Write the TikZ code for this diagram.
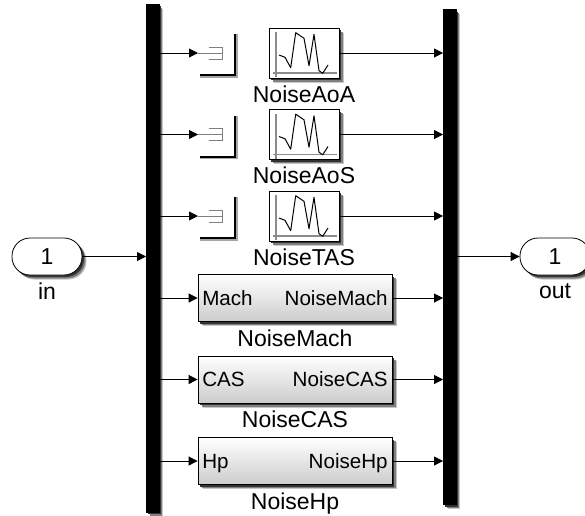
\documentclass[tikz,border=0pt]{standalone}
\usepackage{fontspec}
\setmainfont{Liberation Sans}
\usetikzlibrary{arrows.meta,shadows}
\tikzset{
  softshadow/.style={
    general shadow={shadow xshift=4.5pt,shadow yshift=-4.5pt,fill=black!22},
    general shadow={shadow xshift=3.5pt,shadow yshift=-3.5pt,fill=black!50},
    general shadow={shadow xshift=2pt,shadow yshift=-2pt,fill=black!80}},
  busbar/.style={fill=black,draw=black,inner sep=0pt,minimum width=12.5pt,softshadow},
  scopeblock/.style={draw=black,line width=.8pt,fill=white,inner sep=0pt,minimum width=70pt,minimum height=50pt,softshadow},
  maskblock/.style={draw=black,line width=.8pt,top color=white,bottom color=black!20,inner sep=0pt,minimum width=194pt,minimum height=47pt,softshadow},
  portblock/.style={draw=black,line width=.8pt,fill=white,rounded corners=18pt,inner sep=0pt,minimum width=70pt,minimum height=37pt,softshadow,font=\fontsize{23}{24}\selectfont},
  blocklabel/.style={font=\fontsize{23}{24}\selectfont,inner sep=0pt,anchor=base},
  portlabel/.style={font=\fontsize{20.6}{22}\selectfont,inner sep=0pt,anchor=base},
  wire/.style={draw=black,line width=.8pt,-{Triangle[length=9pt,width=9pt]}},
  gotolines/.style={draw=black!50,line width=1pt},
  gotoedge/.style={draw=black,line width=2pt,line cap=butt},
  tracegray/.style={draw=black!45,line width=1.2pt},
  trace/.style={draw=black,line width=1pt,line join=round}
}
\begin{document}
\begin{tikzpicture}[x=1pt,y=-1pt]
\useasboundingbox[fill=white] (0,0) rectangle (585,515);
% buses
\node[busbar,minimum height=508pt] (lbar) at (152.5,258) {};
\node[busbar,minimum height=495pt] (rbar) at (449.5,257) {};
% ports
\node[portblock] (inp) at (47,256.5) {1};
\node[portblock] (outp) at (555,256.5) {1};
\node[blocklabel] (inlab) at (47,299) {in};
\node[blocklabel] (outlab) at (555,298.5) {out};
\draw[wire] (inp.east) -- (lbar.west |- inp.east);
\draw[wire] (rbar.east |- outp.west) -- (outp.west);
% scopes and gotos
\foreach \n/\dy/\lab in {a/0/NoiseAoA,b/81.5/NoiseAoS,c/163/NoiseTAS}{
  \begin{scope}[yshift=-\dy pt]
    \node[scopeblock] (sc\n) at (304,53) {};
    \draw[tracegray] (276,32) -- (276,77);
    \draw[tracegray] (273,73) -- (337,73);
    \draw[trace] (279,55) -- (285,57.3) -- (290.7,67.7) -- (295.7,32.7) -- (304,38.3) -- (309,65.7) -- (314,34.3) -- (319,70.7) -- (322.7,73.3) -- (328,65);
    \node[blocklabel] (lab\n) at (304,102) {\lab};
    \coordinate (gt\n) at (198,53);
    \draw[gotolines] (gt\n) -- (222,53);
    \draw[gotolines] (209,47) -- (222,47) -- (222,59) -- (209,59);
    \draw[gotoedge,draw=black!35,line width=3pt] (236,34) -- (236,76) -- (200,76);
    \draw[gotoedge] (235,34) -- (235,75) -- (200,75);
    \draw[wire] (lbar.east |- gt\n) -- (gt\n);
    \draw[wire] (sc\n.east) -- (rbar.west |- sc\n.east);
  \end{scope}
}
% masked subsystems
\foreach \n/\y/\lin/\lout/\base in {m/298/Mach/NoiseMach/346,c2/379.5/CAS/NoiseCAS/427,h/461/Hp/NoiseHp/509}{
  \node[maskblock] (bl\n) at (295,\y) {};
  \node[portlabel,anchor=base west] (in\n) at ([xshift=4.5pt,yshift=-7pt]bl\n.west) {\lin};
  \node[portlabel,anchor=base east] (ou\n) at ([xshift=-4.5pt,yshift=-7pt]bl\n.east) {\lout};
  \node[blocklabel] (la\n) at (295,\base) {\lout};
  \draw[wire] (lbar.east |- bl\n.west) -- (bl\n.west);
  \draw[wire] (bl\n.east) -- (rbar.west |- bl\n.east);
}
\end{tikzpicture}
\end{document}
